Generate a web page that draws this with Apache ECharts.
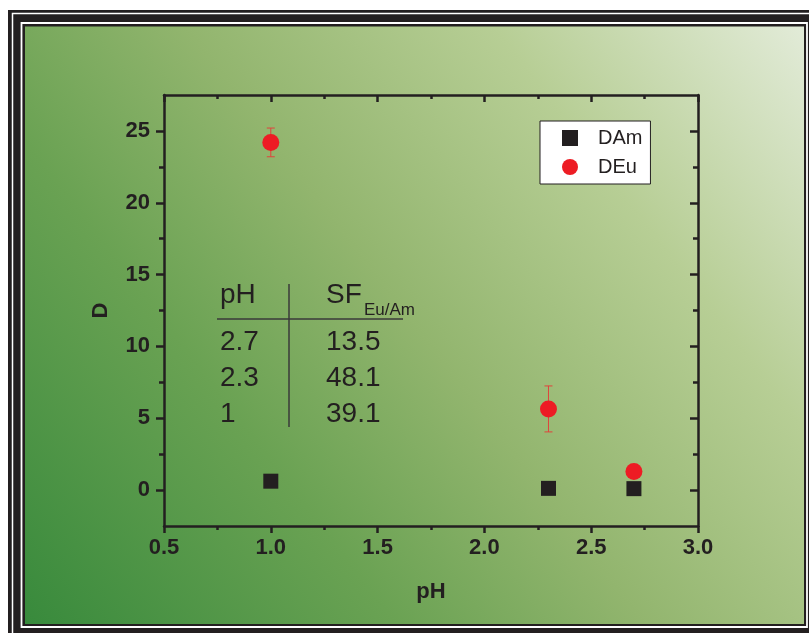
<!DOCTYPE html>
<html>
<head>
<meta charset="utf-8">
<script src="https://cdn.jsdelivr.net/npm/echarts@6/dist/echarts.min.js"></script>
<style>
  html, body { margin: 0; padding: 0; background: #fff; }
  #chart { width: 809px; height: 633px; }
</style>
</head>
<body>
<div id="chart"></div>
<script>
// measured values
const phValues = [1.0, 2.3, 2.7];
const dAm = [0.62, 0.12, 0.10];
const dEu = [24.2, 5.65, 1.3];
const dEuErr = [1.0, 1.6, 0];
const yMajorTicks = [0, 5, 10, 15, 20, 25];
const yMinorTicks = [2.5, 7.5, 12.5, 17.5, 22.5];
const tablePh = ['2.7', '2.3', '1'];
const tableSf = ['13.5', '48.1', '39.1'];

const ink = '#231f20';
const font = '"Liberation Sans", Arial, sans-serif';

function yAxisBase(pos, ticks, inside, len, labels) {
    return {
        type: 'value', position: pos, min: -2.5, max: 27.5,
        axisLine: { show: true, onZero: false, lineStyle: { color: ink, width: 2.5 } },
        splitLine: { show: false },
        axisTick: { show: true, inside: inside, length: len, customValues: ticks,
                    lineStyle: { color: ink, width: 2.5 } },
        axisLabel: labels ? { show: true, customValues: ticks, color: ink, fontFamily: font,
                              fontWeight: 'bold', fontSize: 22, margin: 14 } : { show: false }
    };
}

function xAxisBase(pos, inside, labels) {
    return {
        type: 'value', position: pos, min: 0.5, max: 3.0, interval: 0.5,
        axisLine: { show: true, onZero: false, lineStyle: { color: ink, width: 2.5 } },
        splitLine: { show: false },
        axisTick: { show: true, inside: inside, length: 7, lineStyle: { color: ink, width: 2.5 } },
        minorTick: { show: true, splitNumber: 2, length: 4, lineStyle: { color: ink, width: 2.5 } },
        minorSplitLine: { show: false },
        axisLabel: labels ? { show: true, color: ink, fontFamily: font, fontWeight: 'bold',
                              fontSize: 22, margin: 11,
                              formatter: v => v.toFixed(1) } : { show: false }
    };
}

const xBottom = xAxisBase('bottom', false, true);
xBottom.name = 'pH';
xBottom.nameLocation = 'middle';
xBottom.nameGap = 55;
xBottom.nameTextStyle = { color: ink, fontFamily: font, fontWeight: 'bold', fontSize: 22 };

const yLeft = yAxisBase('left', yMajorTicks, false, 8, true);
yLeft.name = 'D';
yLeft.nameLocation = 'middle';
yLeft.nameGap = 52;
yLeft.nameTextStyle = { color: ink, fontFamily: font, fontWeight: 'bold', fontSize: 22 };

const yLeftMinor = yAxisBase('left', yMinorTicks, false, 5, false);
yLeftMinor.axisLine.show = false;
const yRight = yAxisBase('right', yMajorTicks, true, 8, false);
const yRightMinor = yAxisBase('right', yMinorTicks, true, 5, false);
yRightMinor.axisLine.show = false;

const errData = phValues.map((p, i) => [p, dEu[i] - dEuErr[i], dEu[i] + dEuErr[i]]);

// table drawn as text in the plot
const tableGraphics = [
    { type: 'text', left: 220, top: 281, z: 10,
      style: { text: 'pH', font: '28px ' + font, fill: ink } },
    { type: 'text', left: 326, top: 281, z: 10,
      style: { text: 'SF', font: '28px ' + font, fill: ink } },
    { type: 'text', left: 364, top: 302, z: 10,
      style: { text: 'Eu/Am', font: '17px ' + font, fill: ink } },
    { type: 'line', z: 10, shape: { x1: 217, y1: 319, x2: 403, y2: 319 },
      style: { stroke: '#3a3a3a', lineWidth: 1.5 } },
    { type: 'line', z: 10, shape: { x1: 289, y1: 284, x2: 289, y2: 427 },
      style: { stroke: '#3a3a3a', lineWidth: 1.5 } }
];
tablePh.forEach((t, i) => {
    tableGraphics.push({ type: 'text', left: 220, top: 328 + i * 36, z: 10,
        style: { text: t, font: '28px ' + font, fill: ink } });
    tableGraphics.push({ type: 'text', left: 326, top: 328 + i * 36, z: 10,
        style: { text: tableSf[i], font: '28px ' + font, fill: ink } });
});

const frameGraphics = [
    { type: 'rect', z: -10, shape: { x: 8, y: 10, width: 820, height: 640 },
      style: { fill: ink } },
    { type: 'rect', z: -9, shape: { x: 12.5, y: 13.5, width: 820, height: 640 },
      style: { fill: 'none', stroke: '#fff', lineWidth: 1.5 } },
    { type: 'rect', z: -9, shape: { x: 21.5, y: 23, width: 785.5, height: 604 },
      style: { fill: 'none', stroke: '#fff', lineWidth: 1.8 } },
    { type: 'rect', z: -8, shape: { x: 25, y: 26.5, width: 779, height: 597.5 },
      style: { fill: { type: 'linear', x: 0, y: 1, x2: 1, y2: 0, colorStops: [
          { offset: 0, color: '#388a3c' },
          { offset: 0.3, color: '#6aa253' },
          { offset: 0.5, color: '#92b56e' },
          { offset: 0.75, color: '#b7ce95' },
          { offset: 1, color: '#e2ebd8' }
      ] } } }
];

const chart = echarts.init(document.getElementById('chart'));
chart.setOption({
    backgroundColor: '#fff',
    animation: false,
    grid: { left: 164, top: 95, width: 534, height: 431 },
    graphic: frameGraphics.concat(tableGraphics),
    legend: {
        left: 540, top: 121, orient: 'vertical',
        backgroundColor: '#fff', borderColor: ink, borderWidth: 1,
        padding: [7, 8, 7, 22], itemWidth: 16, itemHeight: 16, itemGap: 9,
        textStyle: { color: ink, fontFamily: font, fontSize: 20, padding: [0, 0, 0, 15] },
        data: ['DAm', 'DEu']
    },
    xAxis: [xBottom, xAxisBase('top', true, false)],
    yAxis: [yLeft, yRight, yLeftMinor, yRightMinor],
    series: [
        {
            name: 'DEu err', type: 'custom', z: 3,
            renderItem: (params, api) => {
                const top = api.coord([api.value(0), api.value(2)]);
                const bot = api.coord([api.value(0), api.value(1)]);
                const w = 4;
                const st = { stroke: '#e0443c', lineWidth: 1 };
                return { type: 'group', children: [
                    { type: 'line', shape: { x1: top[0], y1: top[1], x2: bot[0], y2: bot[1] }, style: st },
                    { type: 'line', shape: { x1: top[0] - w, y1: top[1], x2: top[0] + w, y2: top[1] }, style: st },
                    { type: 'line', shape: { x1: bot[0] - w, y1: bot[1], x2: bot[0] + w, y2: bot[1] }, style: st }
                ] };
            },
            data: errData
        },
        {
            name: 'DAm', type: 'scatter', symbol: 'rect', symbolSize: 15, z: 4,
            itemStyle: { color: ink, opacity: 1 },
            data: phValues.map((p, i) => [p, dAm[i]])
        },
        {
            name: 'DEu', type: 'scatter', symbol: 'circle', symbolSize: 17, z: 4,
            itemStyle: { color: '#ed1c24', opacity: 1 },
            data: phValues.map((p, i) => [p, dEu[i]])
        }
    ]
});
</script>
</body>
</html>
